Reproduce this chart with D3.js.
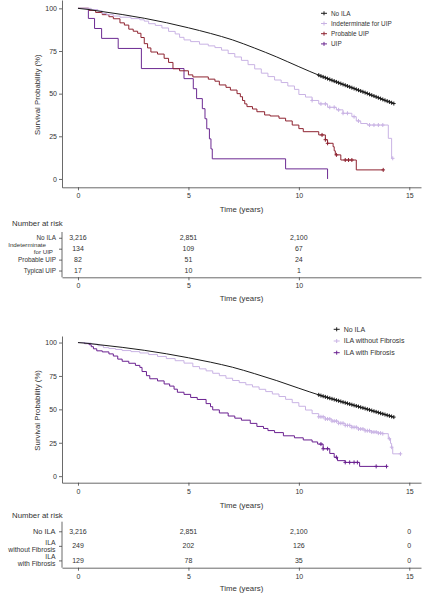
<!DOCTYPE html>
<html><head><meta charset="utf-8">
<script src="https://cdn.jsdelivr.net/npm/d3@7"></script>
<style>
html,body{margin:0;padding:0;background:#fff;}
svg{display:block;font-family:"Liberation Sans",Arial,sans-serif;}
text{fill:#333;}
</style></head>
<body><svg id="c" width="427" height="594"></svg>
<script>
// ---------- DATA ----------
const xTicks = [0, 5, 10, 15];
const yTicks = [0, 25, 50, 75, 100];

// No ILA (shared by both panels)
const noIlaTime = [0, 0.5, 1, 2, 3, 4, 5, 6, 7, 8, 9, 10, 11, 12, 13, 14, 14.3];
const noIlaSurv = [100, 99.3, 98.3, 96.4, 94.2, 91.6, 88.6, 85.3, 81.5, 76.7, 71.5, 65.8, 60.3, 55.4, 50.6, 45.6, 44.2];
const noIlaCensor = [10.9, 11.0, 11.1, 11.2, 11.3, 11.4, 11.5, 11.6, 11.7, 11.8, 11.9, 12.0, 12.1, 12.2, 12.3, 12.4, 12.5, 12.6, 12.7, 12.8, 12.9, 13.0, 13.1, 13.2, 13.3, 13.4, 13.5, 13.6, 13.7, 13.8, 13.9, 14.0, 14.1, 14.2, 14.3];

// Top panel
const indetTime = [0, 0.6, 0.9, 1.1, 1.3, 1.6, 1.9, 2.4, 2.8, 3.0, 3.2, 3.5, 3.8, 4.1, 4.4, 4.6, 4.8, 5.1, 5.5, 5.9, 6.2, 6.5, 6.8, 7.1, 7.4, 7.7, 8.0, 8.3, 8.6, 8.9, 9.2, 9.5, 9.8, 10.0, 10.3, 10.6, 10.9, 11.3, 11.7, 12.0, 12.4, 12.6, 12.8, 13.1, 14.05, 14.2, 14.25];
const indetSurv = [100, 99.3, 98.5, 97, 96.3, 95.5, 94.8, 94, 93.3, 92.5, 91, 90, 88.5, 86.5, 85, 83, 81.5, 80.5, 79, 78, 77, 75.5, 73.5, 71.5, 69.5, 67, 64.5, 62, 60, 58, 56.5, 54.5, 52.5, 49.5, 48, 46, 44, 42, 40.5, 38.5, 36.5, 34, 32.5, 31.6, 23.8, 12.1, 12.1];
const indetCensor = [10.6, 11.0, 11.2, 11.4, 11.6, 11.8, 12.0, 12.2, 12.5, 12.7, 13.2, 13.4, 13.6, 13.8, 14.25];

const probTime = [0, 0.5, 0.8, 1.1, 1.4, 1.6, 1.9, 2.1, 2.3, 2.5, 2.7, 2.85, 3.0, 3.15, 3.3, 3.6, 3.9, 4.1, 4.3, 4.6, 5.0, 5.2, 5.9, 6.2, 6.4, 6.7, 6.9, 7.2, 7.35, 7.45, 7.55, 7.65, 7.9, 8.1, 8.45, 8.7, 9.1, 9.4, 9.7, 10.0, 10.2, 10.9, 11.2, 11.3, 11.55, 11.6, 11.65, 11.9, 12.6, 13.82];
const probSurv = [100, 98.8, 97.6, 96.3, 95.1, 93.9, 91.5, 90.2, 87.8, 86.6, 85.4, 82.9, 79.3, 76.8, 74.4, 73.2, 70.7, 68.3, 64.6, 63.4, 61.0, 59.8, 58.5, 57.3, 55.1, 53.7, 52.1, 50.0, 48.2, 46, 44, 42.4, 41, 39.4, 37.5, 36.9, 35.6, 34, 31.6, 29.5, 27.7, 25.8, 23, 20.9, 18.9, 16.5, 14.1, 11.1, 5.3, 5.3];
const probCensor = [11.05, 11.2, 11.3, 11.7, 12.1, 12.25, 12.4, 13.82];

const uipTime = [0, 0.47, 0.75, 1.07, 1.82, 2.87, 4.8, 5.22, 5.37, 5.63, 5.75, 5.83, 5.95, 6.02, 6.08, 9.4, 11.3];
const uipSurv = [100, 94.1, 88.2, 82.4, 76.5, 64.7, 58.8, 52.9, 47.1, 41.2, 35.3, 29.4, 23.5, 17.6, 11.8, 5.9, 0];
const uipCensor = [];

// Bottom panel
const noFibTime = [0, 0.3, 0.6, 0.9, 1.15, 1.4, 1.7, 2.0, 2.4, 2.8, 3.2, 3.6, 4.0, 4.4, 4.8, 5.2, 5.5, 5.8, 6.1, 6.4, 6.7, 7.0, 7.3, 7.6, 7.9, 8.2, 8.5, 8.8, 9.1, 9.4, 9.7, 10.0, 10.3, 10.6, 10.9, 11.2, 11.5, 11.8, 12.1, 12.4, 12.7, 13.0, 13.3, 13.6, 13.8, 14.05, 14.15, 14.2, 14.25, 14.6];
const noFibSurv = [100, 99.6, 98.8, 97.6, 96.2, 95.5, 94.8, 94.0, 93.2, 92.2, 91, 89.6, 88, 86.4, 84.6, 82, 80.3, 78.8, 77, 75.2, 73.3, 71.6, 70, 68.4, 66.8, 65, 63.3, 61.5, 59.6, 57.5, 55, 52.3, 49.5, 46.8, 44.4, 42.8, 41.2, 39.6, 38, 36.6, 35.3, 34, 33, 32.2, 31.8, 28, 24.5, 21.7, 16.7, 16.7];
const noFibCensor = [10.9, 11.0, 11.1, 11.2, 11.3, 11.4, 11.5, 11.6, 11.7, 11.8, 11.9, 12.0, 12.1, 12.2, 12.3, 12.4, 12.5, 12.6, 12.7, 12.8, 12.9, 13.0, 13.1, 13.2, 13.3, 13.4, 13.5, 13.6, 13.7, 13.8, 14.1, 14.2, 14.6];

const fibTime = [0, 0.3, 0.5, 0.6, 0.7, 0.85, 1.1, 1.4, 1.6, 1.8, 2.0, 2.3, 2.6, 2.8, 2.9, 3.1, 3.25, 3.6, 3.9, 4.15, 4.35, 4.5, 4.8, 5.1, 5.4, 5.8, 6.0, 6.1, 6.4, 6.8, 7.1, 7.4, 7.8, 8.1, 8.4, 8.6, 8.9, 9.3, 9.8, 10.2, 10.6, 10.85, 11.1, 11.4, 11.6, 11.75, 12.1, 12.75, 13.97];
const fibSurv = [100, 99.2, 98.4, 96.9, 95.3, 93.8, 93, 91.5, 89.9, 87.6, 86, 84.5, 82.9, 81.4, 78.3, 75.2, 72.9, 71.3, 69, 67.4, 65.1, 62.8, 61.2, 58.9, 57.4, 54.3, 52, 49.6, 47.3, 45, 43.4, 41.9, 39.5, 37.2, 35.7, 34.1, 32.6, 30.2, 28.7, 27.1, 25.6, 24, 20.5, 17, 14.1, 11.6, 10.3, 7.3, 7.3];
const fibCensor = [11.0, 11.1, 11.3, 11.7, 12.1, 12.3, 12.5, 12.65, 13.5, 13.97];

// Risk tables
const riskLabelsTop = [["No ILA"], ["Indeterminate", "for UIP"], ["Probable UIP"], ["Typical UIP"]];
const riskTop = [["3,216", "2,851", "2,100"], ["134", "109", "67"], ["82", "51", "24"], ["17", "10", "1"]];
const riskTicksTop = [0, 5, 10];
const riskLabelsBot = [["No ILA"], ["ILA", "without Fibrosis"], ["ILA", "with Fibrosis"]];
const riskBot = [["3,216", "2,851", "2,100", "0"], ["249", "202", "126", "0"], ["129", "78", "35", "0"]];
const riskTicksBot = [0, 5, 10, 15];

const legendTop = ["No ILA", "Indeterminate for UIP", "Probable UIP", "UIP"];
const legendBot = ["No ILA", "ILA without Fibrosis", "ILA with Fibrosis"];

// ---------- STYLE ----------
const C_BLACK = "#1c1c1c", C_LILAC = "#c9b3e4", C_RED = "#8e2330", C_PURPLE = "#6c2a92", C_PURPLE2 = "#6a2090";
const FS_TICK = 7, FS_TITLE = 7.8;

const svg = d3.select("#c");
const x = d3.scaleLinear().domain([-0.724, 15.53]).range([62, 421]);

function survAt(times, surv, t) {
  let s = surv[0];
  for (let i = 0; i < times.length; i++) { if (times[i] <= t) s = surv[i]; }
  return s;
}

function styleAxis(g) {
  g.selectAll("path,line").attr("stroke", "#444").attr("stroke-width", 0.8);
  g.selectAll("text").attr("fill", "#333").style("font-size", FS_TICK + "px").style("font-family", "Liberation Sans, Arial, sans-serif");
}

function drawPanel(yTop, yBottom, series, legendNames, legX, legY0, legDy, legFs) {
  const y = d3.scaleLinear().domain([-4.9, 104.9]).range([yBottom, yTop]);
  const gx = svg.append("g").attr("transform", `translate(0,${yBottom})`)
    .call(d3.axisBottom(x).tickValues(xTicks).tickSize(3).tickSizeOuter(0).tickPadding(3));
  styleAxis(gx);
  const gy = svg.append("g").attr("transform", `translate(62,0)`)
    .call(d3.axisLeft(y).tickValues(yTicks).tickSize(3).tickSizeOuter(0).tickPadding(2));
  styleAxis(gy);
  svg.append("text").attr("x", 241.5).attr("y", yBottom + 25).attr("text-anchor", "middle")
    .style("font-size", FS_TITLE + "px").text("Time (years)");
  svg.append("text").attr("transform", `translate(39.5,${(yTop + yBottom) / 2 + 1}) rotate(-90)`)
    .attr("text-anchor", "middle").style("font-size", FS_TITLE + "px").text("Survival Probability (%)");

  const line = d3.line().x(d => x(d[0])).y(d => y(d[1])).curve(d3.curveStepAfter);
  const smooth = d3.line().x(d => x(d[0])).y(d => y(d[1])).curve(d3.curveMonotoneX);
  series.slice().reverse().forEach(s => {
    const pts = s.t.map((t, i) => [t, s.s[i]]);
    svg.append("path").attr("d", (s.smooth ? smooth : line)(pts)).attr("fill", "none")
      .attr("stroke", s.color).attr("stroke-width", 1);
    s.c.forEach(ct => {
      let sv;
      if (s.smooth) {
        const i = d3.bisectLeft(s.t, ct);
        const i0 = Math.max(0, i - 1), i1 = Math.min(s.t.length - 1, i);
        const f = s.t[i1] === s.t[i0] ? 0 : (ct - s.t[i0]) / (s.t[i1] - s.t[i0]);
        sv = s.s[i0] + f * (s.s[i1] - s.s[i0]);
      } else sv = survAt(s.t, s.s, ct);
      const cx = x(ct), cy = y(sv);
      svg.append("path").attr("d", `M${cx - 1.8},${cy}h3.6M${cx},${cy - 2}v4`)
        .attr("stroke", s.color).attr("stroke-width", 1).attr("fill", "none");
    });
  });

  legendNames.forEach((n, i) => {
    const ly = legY0 + i * legDy;
    svg.append("path").attr("d", `M${legX - 3},${ly}h6M${legX},${ly - 2}v4`)
      .attr("stroke", series[i].color).attr("stroke-width", 1);
    svg.append("text").attr("x", legX + 7).attr("y", ly).attr("dy", "0.35em")
      .style("font-size", legFs + "px").text(n);
  });
}

function drawRisk(titleY, axTop, rowTop, yBottom, labels, values, ticks, opt) {
  svg.append("text").attr("x", 12).attr("y", titleY).attr("dy", "0.35em").style("font-size", FS_TITLE + "px").text("Number at risk");
  const ry = d3.scalePoint().domain(d3.range(labels.length)).range([rowTop, yBottom - opt.bottomGap]).padding(0.5);
  const gx = svg.append("g").attr("transform", `translate(0,${yBottom})`)
    .call(d3.axisBottom(x).tickValues(ticks).tickSize(3).tickSizeOuter(0).tickPadding(3));
  styleAxis(gx);
  const gy = svg.append("g").attr("transform", `translate(62,0)`)
    .call(d3.axisLeft(ry).tickSize(3).tickSizeOuter(0).tickFormat(""));
  gy.select(".domain").remove();
  styleAxis(gy);
  svg.append("line").attr("x1", 62).attr("x2", 62).attr("y1", axTop).attr("y2", yBottom)
    .attr("stroke", "#444").attr("stroke-width", 0.8);
  labels.forEach((lab, i) => {
    const cy = ry(i);
    if (lab.length === 1) {
      svg.append("text").attr("x", opt.labelX).attr("y", cy).attr("dy", "0.35em").attr("text-anchor", "end")
        .style("font-size", opt.labelFs + "px").text(lab[0]);
    } else {
      lab.forEach((l, k) => {
        svg.append("text").attr("x", opt.multiX[k]).attr("y", cy + opt.multiDy[k]).attr("dy", "0.35em")
          .attr("text-anchor", "end").style("font-size", opt.multiFs + "px").text(l);
      });
    }
    values[i].forEach((v, j) => {
      svg.append("text").attr("x", x(xTicks[j])).attr("y", cy).attr("dy", "0.35em")
        .attr("text-anchor", "middle").style("font-size", FS_TICK + "px").text(v);
    });
  });
  svg.append("text").attr("x", 241.5).attr("y", yBottom + 21).attr("dy", "0.35em").attr("text-anchor", "middle")
    .style("font-size", FS_TITLE + "px").text("Time (years)");
}

// Top panel
drawPanel(0, 187.3, [
  {t: noIlaTime, s: noIlaSurv, c: noIlaCensor, color: C_BLACK, smooth: true},
  {t: indetTime, s: indetSurv, c: indetCensor, color: C_LILAC},
  {t: probTime, s: probSurv, c: probCensor, color: C_RED},
  {t: uipTime, s: uipSurv, c: uipCensor, color: C_PURPLE}
], legendTop, 324, 13.3, 10.2, 6.4);
drawRisk(223, 232, 232.3, 277.3, riskLabelsTop, riskTop, riskTicksTop,
  {bottomGap: 1.3, labelX: 56, labelFs: 6.4, multiFs: 6.2, multiX: [46, 53], multiDy: [-3.4, 2.8]});

// Bottom panel
drawPanel(336, 482.7, [
  {t: noIlaTime, s: noIlaSurv, c: noIlaCensor, color: C_BLACK, smooth: true},
  {t: noFibTime, s: noFibSurv, c: noFibCensor, color: C_LILAC},
  {t: fibTime, s: fibSurv, c: fibCensor, color: C_PURPLE2}
], legendBot, 336.7, 329.3, 11.7, 7);
drawRisk(515, 521.7, 524, 567.7, riskLabelsBot, riskBot, riskTicksBot,
  {bottomGap: 0, labelX: 55.5, labelFs: 7.4, multiFs: 6.8, multiX: [55.5, 55.5], multiDy: [-3.6, 3.6]});
</script></body></html>
